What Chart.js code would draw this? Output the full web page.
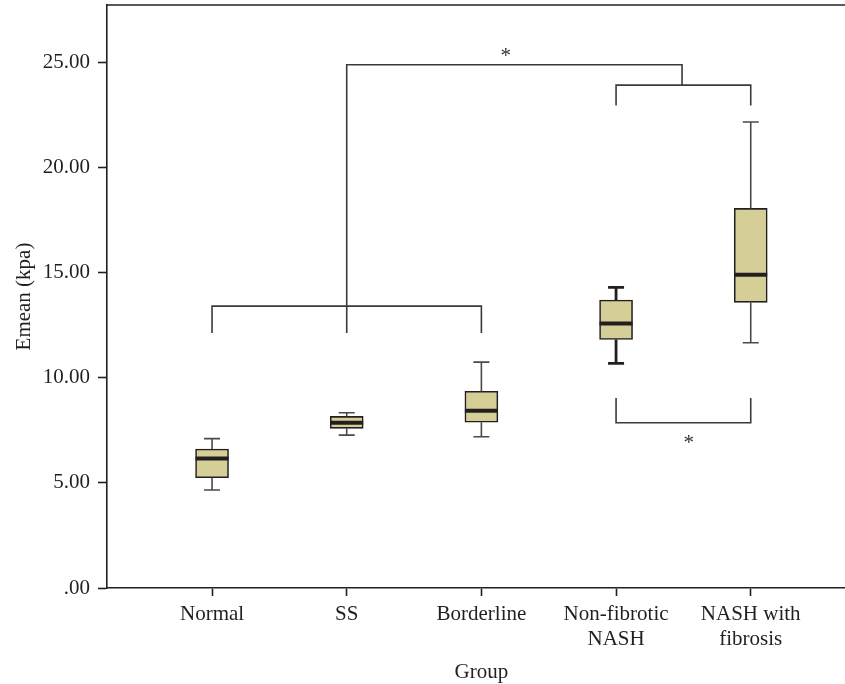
<!DOCTYPE html>
<html><head><meta charset="utf-8">
<script src="https://cdn.jsdelivr.net/npm/chart.js@4.4.1/dist/chart.umd.min.js"></script>
<style>html,body{margin:0;padding:0;background:#fff;} canvas{display:block;}</style>
</head><body>
<canvas id="c" width="845" height="684"></canvas>
<script>
// ---- data ----
const categories = ['Normal', 'SS', 'Borderline', ['Non-fibrotic', 'NASH'], ['NASH with', 'fibrosis']];
const whiskerLow  = [4.66, 7.27, 7.19, 10.68, 11.66];
const q1          = [5.24, 7.59, 7.88, 11.82, 13.58];
const median      = [6.16, 7.86, 8.43, 12.58, 14.89];
const q3          = [6.61, 8.16, 9.35, 13.69, 18.05];
const whiskerHigh = [7.10, 8.33, 10.74, 14.29, 22.16];
const yTicks = [0, 5, 10, 15, 20, 25];
const xTitle = 'Group';
const yTitle = 'Emean (kpa)';

// significance brackets (category index, value)
const bracketLines = [
  [[0, 12.12], [0, 13.40], [2, 13.40], [2, 12.12]],
  [[1, 12.12], [1, 24.88], [3.49, 24.88], [3.49, 23.91]],
  [[3, 22.94], [3, 23.91], [4, 23.91], [4, 22.94]],
  [[3, 9.03], [3, 7.86], [4, 7.86], [4, 9.03]]
];
const asterisks = [[2.18, 25.54], [3.54, 7.13]];

// ---- style ----
const ink = '#231f20';
const boxFill = '#d5ce97';
const whiskerColor = ['#4a4a4a', '#4a4a4a', '#4a4a4a', ink, '#4a4a4a'];
const whiskerWidth = [1.6, 1.6, 1.6, 2.8, 1.6];
const FONT = { family: 'Liberation Serif', size: 21 };

const boxPlugin = {
  id: 'boxplot',
  afterDatasetsDraw(chart) {
    const { ctx, scales: { x, y }, chartArea } = chart;
    const meta = chart.getDatasetMeta(0);
    ctx.save();
    // whiskers
    categories.forEach((c, i) => {
      const cx = x.getPixelForValue(i);
      ctx.strokeStyle = whiskerColor[i];
      ctx.lineWidth = whiskerWidth[i];
      ctx.beginPath();
      ctx.moveTo(cx, y.getPixelForValue(q3[i]));
      ctx.lineTo(cx, y.getPixelForValue(whiskerHigh[i]));
      ctx.moveTo(cx, y.getPixelForValue(q1[i]));
      ctx.lineTo(cx, y.getPixelForValue(whiskerLow[i]));
      ctx.moveTo(cx - 8, y.getPixelForValue(whiskerHigh[i]));
      ctx.lineTo(cx + 8, y.getPixelForValue(whiskerHigh[i]));
      ctx.moveTo(cx - 8, y.getPixelForValue(whiskerLow[i]));
      ctx.lineTo(cx + 8, y.getPixelForValue(whiskerLow[i]));
      ctx.stroke();
    });
    // medians
    meta.data.forEach((bar, i) => {
      const half = bar.width / 2;
      const my = y.getPixelForValue(median[i]);
      ctx.strokeStyle = ink;
      ctx.lineWidth = 4;
      ctx.beginPath();
      ctx.moveTo(bar.x - half, my);
      ctx.lineTo(bar.x + half, my);
      ctx.stroke();
    });
    // brackets
    ctx.strokeStyle = '#3a3a3a';
    ctx.lineWidth = 1.6;
    ctx.lineJoin = 'miter';
    bracketLines.forEach(pts => {
      ctx.beginPath();
      pts.forEach(([vx, vy], k) => {
        const px = x.getPixelForValue(vx), py = y.getPixelForValue(vy);
        if (k === 0) ctx.moveTo(px, py); else ctx.lineTo(px, py);
      });
      ctx.stroke();
    });
    // asterisks
    ctx.fillStyle = '#333';
    ctx.font = '21px "Liberation Serif"';
    ctx.textAlign = 'center';
    ctx.textBaseline = 'alphabetic';
    asterisks.forEach(([vx, vy]) => {
      ctx.fillText('*', x.getPixelForValue(vx), y.getPixelForValue(vy) + 11);
    });
    // x axis title, centred under the middle group
    ctx.fillStyle = ink;
    ctx.fillText(xTitle, x.getPixelForValue((categories.length - 1) / 2), 678);
    // top frame line
    ctx.strokeStyle = ink;
    ctx.lineWidth = 1.6;
    ctx.beginPath();
    ctx.moveTo(chartArea.left, chartArea.top);
    ctx.lineTo(chartArea.right, chartArea.top);
    ctx.stroke();
    ctx.restore();
  }
};

new Chart(document.getElementById('c'), {
  type: 'bar',
  data: {
    datasets: [{
      data: categories.map((c, i) => ({ x: i, y: [q1[i], q3[i]] })),
      backgroundColor: boxFill,
      borderColor: ink,
      borderWidth: 1.6,
      borderSkipped: false,
      barThickness: 33
    }]
  },
  options: {
    responsive: false,
    animation: false,
    layout: { padding: { top: 5, right: 0, left: 0, bottom: 0 } },
    plugins: { legend: { display: false }, tooltip: { enabled: false } },
    scales: {
      x: {
        type: 'linear',
        offset: false,
        min: -0.78,
        max: 4.70,
        afterBuildTicks: s => { s.ticks = categories.map((c, i) => ({ value: i })); },
        ticks: {
          callback: v => categories[v],
          font: FONT, color: ink, padding: 6, autoSkip: false, maxRotation: 0
        },
        grid: { offset: false, drawOnChartArea: false, drawTicks: true, tickLength: 8, tickColor: ink, tickWidth: 1.6 },
        border: { color: ink, width: 1.6 },
        title: { display: false },
        afterFit: s => { s.height = 96; s.paddingLeft = 0; s.paddingRight = 0; }
      },
      y: {
        min: 0,
        max: 27.72,
        afterBuildTicks: s => { s.ticks = yTicks.map(v => ({ value: v })); },
        ticks: {
          callback: v => (v === 0 ? '.00' : v.toFixed(2)),
          font: FONT, color: ink, padding: 8
        },
        grid: { drawOnChartArea: false, drawTicks: true, tickLength: 9, tickColor: ink, tickWidth: 1.6 },
        border: { color: ink, width: 1.6 },
        title: { display: true, text: yTitle, font: FONT, color: ink, padding: { top: 12, bottom: 0 } },
        afterFit: s => { s.width = 107; s.paddingTop = 0; s.paddingBottom = 0; }
      }
    }
  },
  plugins: [boxPlugin]
});
</script>
</body></html>
